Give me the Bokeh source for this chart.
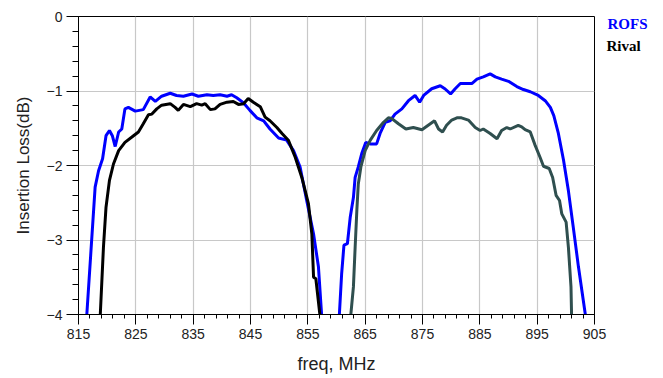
from bokeh.plotting import figure
from bokeh.models import Range1d, FixedTicker, LinearAxis
from bokeh.embed import file_html
from bokeh.resources import INLINE

# ROFS (blue)
rofs_f1 = [816.45, 817.9, 818.5, 819.2, 819.8, 820.4, 820.9, 821.4, 822.0, 822.55, 823.1, 823.7, 824.9,
           826.3, 827.5, 828.4, 829.5, 831.0, 832.1, 833.3, 834.8, 835.9, 837.4, 838.5, 839.7, 840.9,
           841.7, 842.6, 843.8, 844.9, 846.1, 847.3, 848.4, 849.9, 851.3, 852.5, 853.65, 854.8, 856.0,
           856.85, 857.4]
rofs_l1 = [-4.0, -2.29, -2.07, -1.91, -1.60, -1.53, -1.60, -1.745, -1.55, -1.51, -1.24, -1.22, -1.27,
           -1.25, -1.08, -1.14, -1.07, -1.03, -1.06, -1.07, -1.04, -1.07, -1.05, -1.06, -1.05, -1.07,
           -1.05, -1.09, -1.16, -1.26, -1.36, -1.40, -1.51, -1.63, -1.66, -1.80, -2.02, -2.47, -2.92,
           -3.36, -4.0]
rofs_f2 = [860.5, 860.9, 861.3, 861.9, 862.4, 862.95, 863.25, 863.8, 864.4, 865.1, 865.9, 867.0, 867.6,
           868.5, 869.35, 870.2, 871.4, 872.55, 873.7, 874.5, 875.2, 876.6, 878.1, 878.9, 879.9, 880.7,
           881.6, 882.7, 883.6, 884.5, 885.6, 886.8, 887.7, 888.8, 890.0, 891.45, 892.6, 893.8, 895.2,
           896.4, 897.3, 897.9, 898.7, 899.6, 900.45, 901.3, 902.2, 903.4]
rofs_l2 = [-4.0, -3.45, -3.07, -3.05, -2.69, -2.43, -2.16, -2.02, -1.84, -1.69, -1.71, -1.71, -1.57,
           -1.42, -1.40, -1.31, -1.24, -1.13, -1.06, -1.15, -1.06, -0.97, -0.93, -0.97, -1.04, -0.97,
           -0.90, -0.90, -0.90, -0.84, -0.81, -0.77, -0.81, -0.84, -0.87, -0.94, -0.98, -1.01, -1.06,
           -1.13, -1.22, -1.33, -1.57, -1.93, -2.34, -2.83, -3.36, -4.0]

# Rival (black / dark slate)
rival_f1 = [818.8, 819.35, 819.8, 820.4, 821.1, 822.0, 823.1, 824.6, 825.45, 826.3, 827.2, 827.8, 828.65,
            829.5, 831.0, 831.85, 832.4, 833.3, 834.5, 835.6, 836.5, 837.1, 838.0, 838.8, 839.7, 840.9,
            842.0, 842.9, 843.8, 844.6, 845.5, 846.7, 847.55, 848.4, 849.6, 850.5, 851.6, 852.8, 853.95,
            855.1, 855.7, 856.0, 856.4, 857.1]
rival_l1 = [-4.0, -3.10, -2.56, -2.20, -1.98, -1.80, -1.69, -1.60, -1.55, -1.44, -1.32, -1.31, -1.24,
            -1.19, -1.17, -1.22, -1.26, -1.18, -1.21, -1.17, -1.19, -1.17, -1.25, -1.24, -1.18, -1.15,
            -1.14, -1.18, -1.17, -1.10, -1.15, -1.21, -1.35, -1.40, -1.49, -1.57, -1.66, -1.89, -2.16,
            -2.51, -2.92, -3.50, -3.52, -4.0]
rival_f2 = [862.5, 862.95, 863.25, 863.55, 863.8, 864.25, 865.0, 865.9, 867.0, 868.2, 869.05, 869.65,
            870.8, 872.1, 873.4, 874.9, 876.0, 877.1, 877.8, 878.5, 879.2, 880.1, 881.0, 881.8, 883.0,
            884.2, 885.05, 885.6, 886.8, 888.0, 888.8, 889.7, 890.3, 891.7, 892.3, 892.9, 893.8, 894.65,
            895.5, 896.1, 897.1, 897.7, 898.3, 898.9, 899.3, 900.05, 900.45, 900.9, 901.0]
rival_l2 = [-4.0, -3.63, -3.10, -2.60, -2.25, -2.02, -1.80, -1.66, -1.53, -1.42, -1.36, -1.37,
            -1.44, -1.51, -1.49, -1.52, -1.46, -1.40, -1.51, -1.55, -1.46, -1.39, -1.36, -1.36, -1.39,
            -1.49, -1.53, -1.51, -1.57, -1.64, -1.53, -1.49, -1.51, -1.46, -1.48, -1.52, -1.55, -1.73,
            -1.89, -2.01, -2.04, -2.16, -2.40, -2.47, -2.65, -2.76, -3.10, -3.63, -4.0]

x_ticks = [815, 825, 835, 845, 855, 865, 875, 885, 895, 905]
y_ticks = [0, -1, -2, -3, -4]
series_names = ["ROFS", "Rival"]
watermark = "www.1717521.cn"

p = figure(width=663, height=378, output_backend="svg", toolbar_location=None,
           x_range=Range1d(815, 905), y_range=Range1d(-4, 0),
           min_border_left=78, min_border_right=69, min_border_top=16, min_border_bottom=64)
p.background_fill_color = "white"
p.border_fill_color = "white"
p.outline_line_color = "black"
p.outline_line_width = 1

p.line(rofs_f1, rofs_l1, line_color="#0000FF", line_width=3)
p.line(rofs_f2, rofs_l2, line_color="#0000FF", line_width=3)
p.line(rival_f1, rival_l1, line_color="#000000", line_width=3)
p.line(rival_f2, rival_l2, line_color="#2F4F4F", line_width=3)

for ax in (p.xaxis[0], p.yaxis[0]):
    ax.axis_line_color = "black"
    ax.major_tick_line_color = "black"
    ax.minor_tick_line_color = "black"
    ax.major_tick_in = 0
    ax.minor_tick_in = 0
    ax.major_label_text_font = "Liberation Sans"
    ax.major_label_text_font_size = "14px"
    ax.major_label_text_color = "#222222"
    ax.axis_label_text_font = "Liberation Sans"
    ax.axis_label_text_font_style = "normal"
    ax.axis_label_text_color = "#222222"

p.xaxis.ticker = FixedTicker(ticks=x_ticks, minor_ticks=[815 + 2 * i for i in range(46)])
p.yaxis.ticker = FixedTicker(ticks=y_ticks, minor_ticks=[-0.2 * i for i in range(21)])
p.xaxis.major_tick_out = 10
p.xaxis.minor_tick_out = 4
p.yaxis.major_tick_out = 12
p.yaxis.minor_tick_out = 6
p.xaxis.major_label_standoff = 4
p.yaxis.major_label_standoff = 4
p.xaxis.axis_label = "freq, MHz"
p.yaxis.axis_label = "Insertion Loss(dB)"
p.xaxis.axis_label_text_font_size = "18px"
p.yaxis.axis_label_text_font_size = "17px"
p.xaxis.axis_label_standoff = 12
p.yaxis.axis_label_standoff = 11

p.grid.grid_line_color = "#c8c8c8"
p.grid.grid_line_width = 1.2


def text_axis(tick, label, color, font, size, style, standoff, bounds=None):
    ax = LinearAxis(ticker=FixedTicker(ticks=[tick]),
                    major_label_overrides={tick: label, str(tick): label},
                    major_tick_out=0, major_tick_in=0, minor_tick_out=0, minor_tick_in=0,
                    major_label_standoff=standoff,
                    axis_line_color=None, major_tick_line_color=None, minor_tick_line_color=None,
                    major_label_text_font=font, major_label_text_font_size=size,
                    major_label_text_font_style=style, major_label_text_color=color)
    if bounds is not None:
        ax.bounds = bounds
    return ax


# series key at the right of the frame (second one pulled back under the first)
p.add_layout(text_axis(-0.1, series_names[0], "#0000FF", "Liberation Serif", "15px", "bold", 13), "right")
p.add_layout(text_axis(-0.4, series_names[1], "#000000", "Liberation Serif", "15px", "bold", -44), "right")
# watermark under the x axis
p.add_layout(text_axis(907, watermark, "#444444", "Liberation Mono", "11.5px", "normal", -28,
                       bounds=(900, 910)), "below")

open("out.html", "w").write(file_html(p, INLINE))
